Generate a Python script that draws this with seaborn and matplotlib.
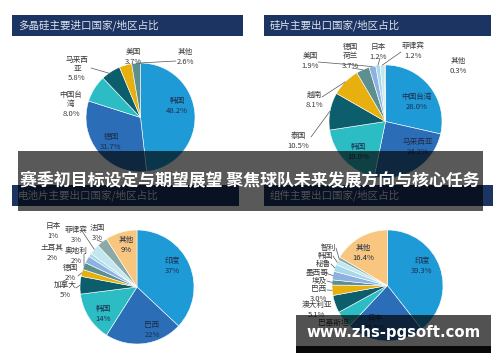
import matplotlib
matplotlib.use('Agg')
import numpy as np
import matplotlib.pyplot as plt
from matplotlib.patches import Rectangle
import seaborn as sns

sns.set_theme(style='white')
plt.rcParams['font.family'] = ['Noto Sans CJK SC', 'DejaVu Sans']

# ---------------- data ----------------
titles = ['多晶硅主要进口国家/地区占比', '硅片主要出口国家/地区占比',
          '电池片主要出口国家/地区占比', '组件主要出口国家/地区占比']

p1_labels = ['韩国', '德国', '中国台湾', '马来西亚', '美国', '其他']
p1_values = [48.2, 31.7, 8.0, 5.8, 3.7, 2.6]

p2_labels = ['中国台湾', '马来西亚', '韩国', '泰国', '越南', '德国', '美国', '日本', '菲律宾', '其他']
p2_values = [28.0, 24.2, 19.0, 10.5, 8.1, 3.7, 1.9, 1.2, 1.2, 0.3]

p3_labels = ['印度', '巴西', '韩国', '加拿大', '德国', '奥地利', '土耳其', '日本', '菲律宾', '法国', '其他']
p3_values = [37, 22, 14, 5, 2, 2, 2, 1, 3, 3, 9]

p4_labels = ['印度', '日本', '巴基斯坦', '澳大利亚', '巴西', '埃及', '墨西哥', '秘鲁', '韩国', '智利', '其他']
p4_values = [39.3, 22.5, 5.0, 5.1, 3.0, 1.5, 2.5, 2.0, 1.5, 0.9, 16.4]

banner_text = '赛季初目标设定与期望展望 聚焦球队未来发展方向与核心任务'
watermark_text = 'www.zhs-pgsoft.com'

# ---------------- style ----------------
base = ['#1e9ad6', '#2b6db6', '#2cbcc3', '#0c5e6c', '#e8b00f', '#5c8f8d',
        '#8db2e2', '#a5d8ea', '#c2e7ee', '#8aa9a8', '#f8c67e']
sns.set_palette(base)
c1 = base[:6]
c2 = base[:9] + ['#8aa9a8']
c3 = base[:11]
c4 = base[:11]

W, H = 500, 362
fig = plt.figure(figsize=(5, 3.62), dpi=100)
fig.patch.set_facecolor('white')
ax = fig.add_axes([0, 0, 1, 1])
ax.set_facecolor('white')

def Y(y):
    return H - y

def rect(x0, y0, x1, y1, **kw):
    ax.add_patch(Rectangle((x0, Y(y1)), x1 - x0, y1 - y0, **kw))

LBL = '#3a3a3a'
INS = '#1f2d4d'

def txt(x, y, s, color=LBL, size=5.5, **kw):
    ax.text(x, Y(y), s, ha='center', va='center', color=color, fontsize=size,
            linespacing=1.25, zorder=5, **kw)

def pie(values, colors, cx, cy, r):
    wedges, _ = ax.pie(values, colors=colors, startangle=90, counterclock=False,
                       center=(cx, Y(cy)), radius=r, frame=True,
                       wedgeprops=dict(edgecolor='white', linewidth=0.4))
    return wedges

def leader(w, cx, cy, r, x, y, frac=0.9):
    th = np.deg2rad((w.theta1 + w.theta2) / 2)
    px = cx + r * frac * np.cos(th)
    py = Y(cy) + r * frac * np.sin(th)
    ax.plot([x, px], [Y(y), py], color='#555555', lw=0.5, zorder=4)

# headers
navy = '#1c3461'
for (x0, y0, x1, y1), t in zip([(12, 15, 243, 36), (264, 15, 491, 36),
                                 (12, 185, 239, 206), (264, 185, 493, 206)], titles):
    rect(x0, y0, x1, y1, facecolor=navy, edgecolor='none', zorder=2)
    ax.text(x0 + 6, Y((y0 + y1) / 2), t, ha='left', va='center', color='#dde3ee',
            fontsize=7.6, zorder=3)

# ---- pie 1 ----
cx, cy, r = 140.5, 117.5, 54.5
w1 = pie(p1_values, c1, cx, cy, r)
v = p1_values
txt(177, 106, f'{p1_labels[0]}\n{v[0]:.1f}%', color=INS)
txt(111, 142, f'{p1_labels[1]}\n{v[1]:.1f}%', color=INS)
txt(71, 104, f'中国台\n湾\n{v[2]:.1f}%')
txt(77, 69, f'马来西\n亚\n{v[3]:.1f}%')
leader(w1[3], cx, cy, r, 91, 68, 0.95)
txt(133, 57, f'{p1_labels[4]}\n{v[4]:.1f}%')
txt(185, 57, f'{p1_labels[5]}\n{v[5]:.1f}%')
leader(w1[5], cx, cy, r, 176, 61, 1.0)

# ---- pie 2 ----
cx, cy, r = 385.5, 121.5, 56.5
w2 = pie(p2_values, c2, cx, cy, r)
v = p2_values
txt(417, 102, f'{p2_labels[0]}\n{v[0]:.1f}%', color=INS)
txt(418, 147, f'{p2_labels[1]}\n{v[1]:.1f}%', color=INS)
txt(358, 152, f'{p2_labels[2]}\n{v[2]:.1f}%', color=INS)
txt(298, 141, f'{p2_labels[3]}\n{v[3]:.1f}%')
leader(w2[3], cx, cy, r, 311, 137, 1.0)
txt(314, 100, f'{p2_labels[4]}\n{v[4]:.1f}%')
leader(w2[4], cx, cy, r, 322, 97, 1.0)
txt(310, 61, f'{p2_labels[6]}\n{v[6]:.1f}%')
leader(w2[6], cx, cy, r, 318, 62, 1.0)
txt(350, 56, f'{p2_labels[5]}\n荷兰\n{v[5]:.1f}%')
leader(w2[5], cx, cy, r, 352, 68, 1.0)
txt(378, 52, f'{p2_labels[7]}\n{v[7]:.1f}%')
leader(w2[7], cx, cy, r, 380, 58, 1.0)
txt(413, 51, f'{p2_labels[8]}\n{v[8]:.1f}%')
leader(w2[8], cx, cy, r, 401, 52, 1.0)
txt(458, 66, f'{p2_labels[9]}\n{v[9]:.1f}%')

# ---- pie 3 ----
cx, cy, r = 137, 287, 57
w3 = pie(p3_values, c3, cx, cy, r)
v = p3_values
txt(172, 266, f'{p3_labels[0]}\n{v[0]}%', color=INS)
txt(152, 330, f'{p3_labels[1]}\n{v[1]}%', color=INS)
txt(103, 314, f'{p3_labels[2]}\n{v[2]}%', color=INS)
txt(126, 245, f'{p3_labels[10]}\n{v[10]}%', color=INS)
pos3 = {3: (65, 290), 4: (70, 273), 5: (76, 256), 6: (52, 253), 7: (53, 231), 8: (76, 235), 9: (97, 233)}
for i, (x, y) in pos3.items():
    txt(x, y, f'{p3_labels[i]}\n{v[i]}%')
for i, (x, y) in {3: (76, 288), 4: (78, 276), 5: (84, 254), 8: (82, 231), 9: (97, 240)}.items():
    leader(w3[i], cx, cy, r, x, y, 1.0)

# ---- pie 4 ----
cx, cy, r = 387.5, 285.5, 55.5
w4 = pie(p4_values, c4, cx, cy, r)
v = p4_values
txt(422, 266, f'{p4_labels[0]}\n{v[0]:.1f}%', color=INS)
txt(363, 253, f'{p4_labels[10]}\n{v[10]:.1f}%', color=INS)
txt(375, 323, f'{p4_labels[1]}\n{v[1]:.1f}%', color=INS)
txt(333, 323, p4_labels[2])
txt(317, 310, f'{p4_labels[3]}\n{v[3]:.1f}%')
txt(319, 294, f'{p4_labels[4]}\n{v[4]:.1f}%')
pos4 = {5: (319, 281), 6: (317, 273), 7: (323, 264), 8: (325, 256), 9: (328, 248)}
for i, (x, y) in pos4.items():
    txt(x, y, p4_labels[i])
    leader(w4[i], cx, cy, r, x + 8, y, 1.0)
leader(w4[4], cx, cy, r, 327, 290, 1.0)

# ---- banner ----
rect(18, 151, 483, 211, facecolor='black', alpha=0.65, edgecolor='none', zorder=10)
ax.text(250, Y(181), banner_text, ha='center', va='center', color='white',
        fontsize=12.2, fontweight='bold', zorder=11)

# ---- watermark ----
rect(296, 315, 491, 347, facecolor='black', alpha=0.68, edgecolor='none', zorder=10)
rect(296, 346, 491, 353, facecolor='#080808', edgecolor='none', zorder=10)
ax.text(393.5, Y(332), watermark_text, ha='center', va='center', color='white',
        fontsize=10.7, fontweight='bold', family='DejaVu Sans', zorder=11)

ax.set_xlim(0, W)
ax.set_ylim(0, H)
ax.set_aspect('auto')
ax.axis('off')

fig.savefig('out.png', dpi=100, facecolor='white')
